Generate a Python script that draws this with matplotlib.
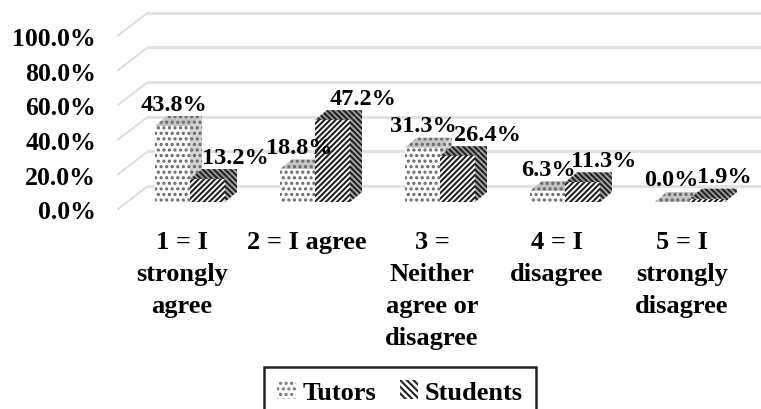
import matplotlib
matplotlib.use('Agg')
from matplotlib import pyplot as plt
from matplotlib.patches import Patch

# dane
categories = ['1 = I\nstrongly\nagree', '2 = I agree', '3 =\nNeither\nagree or\ndisagree', '4 = I\ndisagree', '5 = I\nstrongly\ndisagree']
tutors = [43.8, 18.8, 31.3, 6.3, 0.0]
students = [13.2, 47.2, 26.4, 11.3, 1.9]
y_ticks = [0, 20, 40, 60, 80, 100]

# przesuniecia etykiet wartosci wzgledem slupka
tutor_label_dx = [19, 19, 18, 18, 16]
student_label_dx = [45, 48, 47, 39, 34]

plt.rcParams['font.family'] = 'Liberation Serif'
plt.rcParams['font.weight'] = 'bold'
plt.rcParams['hatch.linewidth'] = 1.5

W, H = 761, 410
fig = plt.figure(figsize=(W / 100, H / 100), dpi=100)
ax = fig.add_axes([0, 0, 1, 1])
ax.set_xlim(0, W)
ax.set_ylim(H, 0)
ax.axis('off')

# skala: wartosc w procentach -> y, numer kategorii -> x
y0 = 203
scale = 1.735
def to_y(v):
    return y0 - v * scale

bar_w = 35
step = 125
left0 = 155
dx, dy = 12, 10

# siatka 3D
for t in y_ticks:
    yf = 210 - t * scale
    ax.plot([118, 148], [yf, yf - 23], color='#d9d9d9', lw=1.2, zorder=1)
    ax.plot([148, W], [yf - 23, yf - 23], color='#e2e2e2', lw=2.2, zorder=1)
    ax.text(96, yf + 3, f'{t:.1f}%', ha='right', va='center', fontsize=18.5)


def bar(x, v, hatch, side_hatch, front, side, top, color, z):
    yt = to_y(v)
    ax.fill([x + bar_w, x + bar_w + dx, x + bar_w + dx, x + bar_w],
            [y0, y0 - dy, yt - dy, yt], facecolor=side, edgecolor=color, hatch=side_hatch, lw=0, zorder=z)
    ax.fill([x, x + dx, x + bar_w + dx, x + bar_w],
            [yt, yt - dy, yt - dy, yt], facecolor=top, edgecolor=color, hatch=side_hatch, lw=0, zorder=z)
    ax.fill([x, x + bar_w, x + bar_w, x],
            [y0, y0, yt, yt], facecolor=front, edgecolor=color, hatch=hatch, lw=0, zorder=z)


for i in range(len(categories)):
    x = left0 + i * step
    bar(x, tutors[i], '...', '...', 'white', '#d4d4d4', '#c4c4c4', '#666666', 3)
    bar(x + bar_w, students[i], '//////', '\\\\\\\\\\\\', 'white', '#aaaaaa', '#999999', '#222222', 4)
    ax.text(x + tutor_label_dx[i], to_y(tutors[i]) - 22, f'{tutors[i]:.1f}%', ha='center', va='center', fontsize=17.5, zorder=6)
    ax.text(x + bar_w + student_label_dx[i], to_y(students[i]) - 22, f'{students[i]:.1f}%', ha='center', va='center', fontsize=17.5, zorder=6)
    ax.text(x + 27, 231, categories[i], ha='center', va='top', fontsize=19, linespacing=1.5)

handles = [Patch(facecolor='white', edgecolor='#777777', hatch='...', lw=0, label='Tutors'),
           Patch(facecolor='white', edgecolor='#222222', hatch='\\\\\\\\\\', lw=0, label='Students')]
leg = ax.legend(handles=handles, ncol=2, loc='upper center', bbox_to_anchor=(400 / W, 1 - 368 / H),
                fontsize=19, frameon=True, fancybox=False, edgecolor='#222222', framealpha=1,
                handlelength=0.7, handleheight=0.7, columnspacing=0.9, handletextpad=0.25,
                borderpad=0.5, borderaxespad=0)
leg.get_frame().set_linewidth(1.8)

fig.savefig('out.png', dpi=100)
